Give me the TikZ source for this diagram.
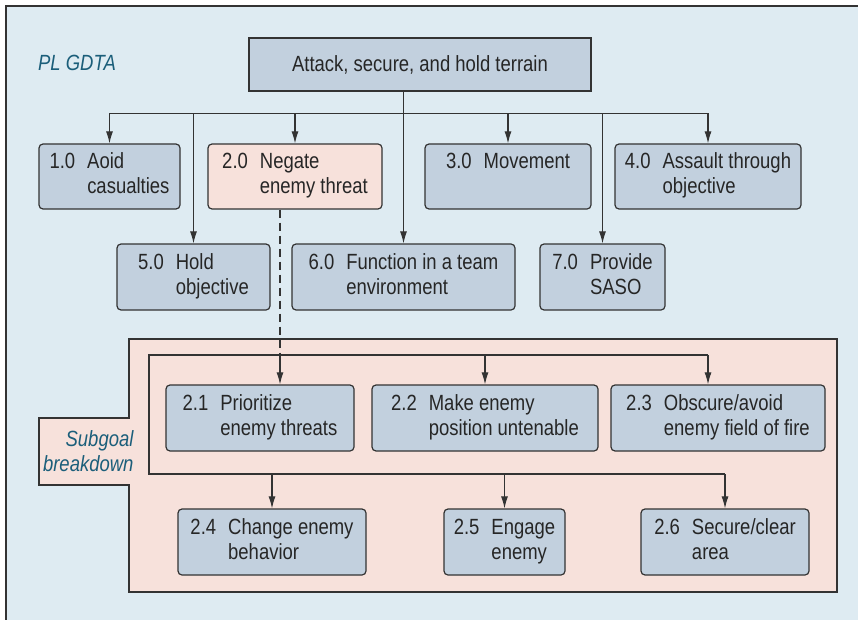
\documentclass[tikz,border=0pt]{standalone}
\usepackage{fontspec}
\setmainfont{Liberation Sans}[FakeStretch=0.84]
\usetikzlibrary{arrows.meta}
\definecolor{bgblue}{HTML}{DEEBF2}
\definecolor{boxblue}{HTML}{C2D0DE}
\definecolor{subpink}{HTML}{F7E1DB}
\definecolor{gdtateal}{HTML}{1B5E7A}
\definecolor{linegray}{HTML}{333333}
\newcommand{\goal}[3]{\begin{tabular}{@{}l@{\hspace{12pt}}l@{}}#1&#2\\&#3\end{tabular}}

\begin{document}
\begin{tikzpicture}[x=1pt,y=-1pt,font=\fontsize{22}{25}\selectfont]
    \tikzstyle{goal}=[draw=linegray,line width=1.2pt,fill=boxblue,rounded corners=4pt,inner sep=0pt,text=black!85]
    \tikzstyle{plain}=[line width=1.1pt,draw=linegray]
    \tikzstyle{link}=[plain,-{Latex[length=12pt,width=7pt]}]
    \tikzstyle{tag}=[font=\fontsize{22}{25}\selectfont\itshape,text=gdtateal]
    \useasboundingbox (0,0) rectangle (858,620);
    \clip (0,0) rectangle (858,620);
    \draw[fill=bgblue,draw=linegray,line width=1.2pt] (6,6) rectangle (880,640);

    % subgoal area
    \draw[fill=subpink,draw=linegray,line width=1.2pt] (129,339) -- (837,339) -- (837,592) -- (129,592)
        -- (129,485) -- (39,485) -- (39,418) -- (129,418) -- cycle;
    \node (sub)[tag,align=right,anchor=east] at (137,451) {Subgoal\\breakdown};
    \node (title)[tag] at (77,63) {PL GDTA};

    \node (top)[goal,sharp corners,minimum width=342pt,minimum height=53pt] at (420,64.5) {Attack, secure, and hold terrain};
    \node (n1)[goal,minimum width=141pt,minimum height=65pt] at (109.5,176.5) {\goal{1.0}{Aoid}{casualties}};
    \node (n2)[goal,fill=subpink,minimum width=174pt,minimum height=65pt] at (295,176.5) {\goal{2.0}{Negate}{enemy threat}};
    \node (n3)[goal,minimum width=166pt,minimum height=65pt] at (508,176.5) {\goal{3.0}{Movement}{}};
    \node (n4)[goal,minimum width=186pt,minimum height=65pt] at (708,176.5) {\goal{4.0}{Assault through}{objective}};
    \node (n5)[goal,minimum width=153pt,minimum height=66pt] at (193.5,277) {\goal{5.0}{Hold}{objective}};
    \node (n6)[goal,minimum width=223pt,minimum height=66pt] at (403.5,277) {\goal{6.0}{Function in a team}{environment}};
    \node (n7)[goal,minimum width=125pt,minimum height=66pt] at (602.5,277) {\goal{7.0}{Provide}{SASO}};

    \node (s1)[goal,minimum width=188pt,minimum height=66pt] at (260,418) {\goal{2.1}{Prioritize}{enemy threats}};
    \node (s2)[goal,minimum width=226pt,minimum height=66pt] at (485,418) {\goal{2.2}{Make enemy}{position untenable}};
    \node (s3)[goal,minimum width=214pt,minimum height=66pt] at (718,418) {\goal{2.3}{Obscure/avoid}{enemy field of fire}};
    \node (s4)[goal,minimum width=188pt,minimum height=66pt] at (272,542) {\goal{2.4}{Change enemy}{behavior}};
    \node (s5)[goal,minimum width=121pt,minimum height=66pt] at (504.5,542) {\goal{2.5}{Engage}{enemy}};
    \node (s6)[goal,minimum width=168pt,minimum height=66pt] at (725,542) {\goal{2.6}{Secure/clear}{area}};

    % top level links
    \coordinate (bar) at (0,113.5);
    \draw[plain] (n1.north |- bar) -- (n4.north |- bar);
    \draw[link] (top.south -| n6.north) -- (n6.north);
    \foreach \n in {n1,n2,n3,n4,n5,n7}
        \draw[link] (\n.north |- bar) -- (\n.north);

    % breakdown of 2.0
    \coordinate (d1) at (280,355);
    \coordinate (bt) at (149,355);
    \coordinate (bb) at (149,474);
    \coordinate (c3) at (708,355);
    \draw[plain,dash pattern=on 8pt off 5pt] (n2.south -| d1) -- (d1);
    \draw[plain] (c3) -- (bt) -- (bb) -- (s6.north |- bb);
    \draw[link] (d1) -- (d1 |- s1.north);
    \draw[link] (s2.north |- bt) -- (s2.north);
    \draw[link] (c3) -- (c3 |- s3.north);
    \foreach \n in {s4,s5,s6}
        \draw[link] (\n.north |- bb) -- (\n.north);
\end{tikzpicture}
\end{document}
